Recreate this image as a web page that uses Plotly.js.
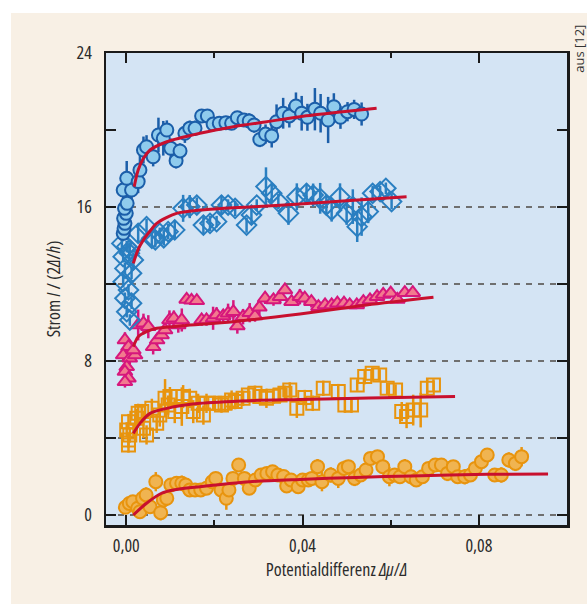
<!DOCTYPE html>
<html>
<head>
<meta charset="utf-8">
<script src="https://cdn.plot.ly/plotly-3.0.1.min.js"></script>
<style>
  html, body { margin: 0; padding: 0; background: #ffffff; }
  #panel { position: absolute; left: 11px; top: 13px; width: 576px; height: 591px; background: #f8f0e5; }
  #chart { position: absolute; left: 0; top: 0; width: 587px; height: 604px; }
  svg text { font-stretch: 75% !important; }
  svg g.annotation text.annotation-text { font-stretch: 100% !important; }
</style>
</head>
<body>
<div id="panel"></div>
<div id="chart"></div>
<script>
// ---- Data ----
// Series 1: dark blue circles
const x1 = [-0.0007,-0.0005,-0.0003,-0.0006,0.0000,-0.0004,0.0002,-0.0007,0.0012,0.0001,
            0.0027,0.0031,0.0039,0.0046,0.0061,0.0073,0.0084,0.0092,0.0101,0.0113,
            0.0122,0.0133,0.0144,0.0156,0.0171,0.0184,0.0197,0.0211,0.0226,0.0239,
            0.0252,0.0267,0.0279,0.0290,0.0303,0.0316,0.0330,0.0341,0.0356,0.0370,
            0.0385,0.0398,0.0411,0.0428,0.0441,0.0458,0.0471,0.0486,0.0502,0.0517,
            0.0534];
const y1 = [14.63,14.89,15.15,15.41,15.67,15.93,16.19,16.88,16.88,17.49,
            17.32,17.92,18.96,19.13,18.61,19.74,19.57,20.00,19.05,18.40,
            18.91,19.83,20.09,20.09,20.73,20.73,20.31,20.35,20.38,20.35,
            20.64,20.52,20.47,20.26,19.51,19.79,19.69,20.43,20.87,20.73,
            21.25,20.87,20.66,21.08,20.87,20.52,21.21,20.66,20.95,21.07,
            20.83];
const e1 = [0.3,0.3,0.3,0.4,0.3,0.4,0.4,0.5,0.5,0.9,
            0.6,0.9,0.7,0.6,0.5,0.9,0.9,0.5,0.5,0.4,
            0.4,0.5,0.4,0.4,0.3,0.3,0.3,0.3,0.3,0.3,
            0.3,0.3,0.4,0.4,0.4,0.5,0.6,0.9,0.8,0.6,
            0.7,0.9,0.7,1.1,1.0,1.2,0.7,0.6,0.5,0.5,
            0.6];

// Series 2: blue open diamonds
const x2 = [-0.0007,0.0008,-0.0003,0.0012,-0.0007,0.0005,-0.0003,0.0012,0.0001,0.0008,
            0.0016,0.0001,-0.0010,0.0007,
            0.0027,0.0046,0.0058,0.0066,0.0076,0.0085,0.0095,0.0110,0.0129,0.0144,
            0.0160,0.0175,0.0190,0.0205,0.0216,0.0231,0.0247,0.0273,0.0284,0.0296,
            0.0317,0.0330,0.0345,0.0368,0.0387,0.0409,0.0424,0.0440,0.0454,0.0466,
            0.0485,0.0500,0.0514,0.0524,0.0534,0.0549,0.0559,0.0576,0.0589,0.0602];
const y2 = [13.42,13.77,12.81,12.56,12.12,11.69,11.26,11.00,10.56,10.13,
            13.25,13.94,14.11,13.60,
            14.63,14.98,14.37,14.29,14.63,14.40,14.72,14.81,15.93,16.02,
            16.10,15.06,15.15,15.24,16.10,16.10,15.93,15.06,15.58,16.10,
            17.06,16.71,16.28,15.67,16.53,16.71,16.62,16.45,16.10,15.84,
            16.53,15.67,16.02,14.98,15.50,15.76,16.71,16.80,16.97,16.28];
const e2 = [0.3,0.3,0.3,0.3,0.3,0.3,0.3,0.3,0.3,0.3,
            0.4,0.3,0.3,0.4,
            0.5,0.4,0.5,0.4,0.3,0.4,0.4,0.5,0.7,0.6,
            0.4,0.5,0.4,0.3,0.5,0.3,0.4,0.4,0.5,0.3,
            1.0,0.5,0.4,0.6,0.7,0.5,0.6,0.8,0.5,0.6,
            0.7,0.6,0.9,0.8,1.0,0.6,0.4,0.3,0.3,0.4];

// Series 3: magenta triangles
const x3 = [-0.0003,0.0005,-0.0007,0.0008,0.0001,-0.0003,0.0005,-0.0003,0.0020,0.0016,
            0.0027,0.0039,0.0050,0.0061,0.0070,0.0080,0.0088,0.0098,0.0108,0.0118,
            0.0126,0.0137,0.0148,0.0160,0.0171,0.0182,0.0197,0.0205,0.0220,0.0231,
            0.0243,0.0252,0.0265,0.0280,0.0292,0.0302,0.0315,0.0334,0.0349,0.0360,
            0.0375,0.0394,0.0405,0.0420,0.0436,0.0451,0.0466,0.0479,0.0494,0.0507,
            0.0523,0.0538,0.0553,0.0569,0.0583,0.0600,0.0615,0.0632,0.0650];
const y3 = [9.09,8.74,8.31,8.14,7.70,7.45,7.10,6.92,8.31,8.57,
            9.87,9.96,9.78,8.74,9.09,9.35,9.61,10.13,10.22,9.87,
            10.13,11.20,11.15,11.13,10.13,10.13,10.22,10.39,10.34,10.48,
            10.56,9.82,10.30,10.51,10.34,10.79,11.26,11.17,11.34,11.69,
            11.08,11.34,11.26,11.08,10.82,10.91,10.91,11.00,11.00,10.91,
            10.91,11.08,11.17,11.34,11.46,11.52,11.20,11.55,11.55];
const e3 = [0.4,0.4,0.3,0.3,0.3,0.3,0.3,0.3,0.3,0.3,
            0.8,0.5,0.6,0.4,0.3,0.3,0.3,0.5,0.4,0.4,
            0.6,0.1,0.1,0.1,0.3,0.3,0.6,0.4,0.3,0.5,
            0.6,0.4,0.4,0.5,0.3,0.4,0.3,0.3,0.3,0.2,
            0.2,0.4,0.3,0.3,0.2,0.2,0.2,0.2,0.2,0.2,
            0.2,0.2,0.2,0.2,0.2,0.2,0.2,0.2,0.2];

// Series 4: orange open squares
const x4 = [0.0001,0.0005,0.0005,0.0008,0.0005,0.0024,0.0027,0.0035,0.0039,0.0046,
            0.0058,0.0069,0.0076,0.0088,0.0099,0.0095,0.0110,0.0126,0.0129,0.0144,
            0.0152,0.0163,0.0175,0.0182,0.0201,0.0216,0.0224,0.0239,0.0247,0.0265,
            0.0277,0.0292,0.0303,0.0318,0.0334,0.0349,0.0360,0.0371,0.0387,0.0405,
            0.0423,0.0447,0.0481,0.0496,0.0511,0.0524,0.0541,0.0558,0.0575,0.0592,
            0.0611,0.0625,0.0636,0.0651,0.0668,0.0683,0.0697];
const y4 = [4.42,3.90,3.64,4.16,4.85,5.02,5.28,5.37,4.50,4.16,
            5.54,4.76,5.19,6.06,6.15,5.71,5.37,5.63,6.15,6.06,
            5.37,5.80,5.19,5.80,5.80,5.71,5.80,5.97,5.89,6.06,
            6.23,6.32,6.15,6.06,6.17,6.23,6.32,6.49,5.54,6.10,
            5.80,6.58,6.41,5.71,5.71,6.75,7.19,7.36,7.27,6.58,
            6.49,5.37,5.11,5.45,5.45,6.58,6.75];
const e4 = [0.4,0.4,0.4,0.4,0.4,0.5,0.5,0.4,0.5,0.5,
            0.5,0.5,0.6,1.0,0.5,0.5,0.6,1.0,0.6,0.5,
            0.6,0.5,0.5,0.5,0.4,0.4,0.4,0.5,0.4,0.4,
            0.4,0.4,0.4,0.5,0.4,0.4,0.4,0.4,0.5,0.4,
            0.4,0.4,0.4,0.4,0.4,0.3,0.4,0.3,0.3,0.3,
            0.3,0.5,0.6,0.8,0.9,0.5,0.3];

// Series 5: orange filled circles
const x5 = [-0.0002,0.0007,0.0015,0.0026,0.0031,0.0037,0.0045,0.0054,0.0067,0.0078,
            0.0084,0.0092,0.0101,0.0114,0.0126,0.0135,0.0144,0.0156,0.0169,0.0182,
            0.0195,0.0203,0.0215,0.0227,0.0233,0.0242,0.0255,0.0268,0.0279,0.0293,
            0.0306,0.0319,0.0332,0.0344,0.0357,0.0364,0.0374,0.0390,0.0400,0.0413,
            0.0421,0.0434,0.0444,0.0464,0.0481,0.0494,0.0504,0.0518,0.0532,0.0544,
            0.0554,0.0570,0.0582,0.0597,0.0609,0.0621,0.0632,0.0646,0.0658,0.0672,
            0.0686,0.0701,0.0715,0.0729,0.0742,0.0752,0.0768,0.0781,0.0792,0.0806,
            0.0819,0.0836,0.0851,0.0868,0.0883,0.0897];
const y5 = [0.40,0.60,0.69,0.35,0.17,0.87,1.04,0.43,1.73,0.12,
            0.78,0.87,1.56,1.65,1.65,1.56,1.30,1.30,1.30,1.39,
            1.73,1.90,1.30,0.87,1.30,1.90,2.60,1.90,1.39,1.82,
            2.08,2.16,2.25,2.08,2.00,1.51,1.82,1.47,1.82,1.82,
            1.90,2.51,1.73,2.08,1.90,2.42,2.51,1.90,2.08,2.34,
            2.94,3.03,2.51,1.99,2.08,1.99,2.51,1.99,1.82,1.99,
            2.42,2.60,2.60,2.16,2.51,1.99,1.99,2.08,2.42,2.77,
            3.12,2.08,2.08,2.86,2.68,3.03];
const e5 = [0.2,0.3,0.3,0.3,0.3,0.3,0.4,0.3,0.5,0.4,
            0.4,0.4,0.3,0.3,0.4,0.3,0.3,0.3,0.3,0.3,
            0.4,0.3,0.3,0.6,0.3,0.3,0.3,0.3,0.3,0.3,
            0.3,0.3,0.3,0.3,0.3,0.3,0.3,0.3,0.3,0.3,
            0.3,0.4,0.5,0.4,0.5,0.4,0.3,0.4,0.3,0.3,
            0.3,0.3,0.3,0.5,0.3,0.3,0.4,0.4,0.3,0.3,
            0.3,0.3,0.3,0.4,0.3,0.3,0.4,0.3,0.3,0.3,
            0.3,0.3,0.4,0.4,0.4,0.5];

// Fit curves
const f1x = [0.0018,0.0027,0.0039,0.0054,0.0092,0.0167,0.0243,0.0319,0.0394,0.0480,0.0568];
const f1y = [17.06,17.92,18.53,18.96,19.39,19.83,20.17,20.43,20.69,20.92,21.13];
const f2x = [0.0016,0.0027,0.0039,0.0054,0.0069,0.0114,0.0167,0.0243,0.0319,0.0394,0.0500,0.0636];
const f2y = [13.07,13.80,14.29,14.75,15.15,15.67,15.84,15.96,16.05,16.16,16.32,16.53];
const f3x = [0.0016,0.0027,0.0046,0.0069,0.0129,0.0243,0.0394,0.0545,0.0697];
const f3y = [8.74,9.26,9.52,9.70,9.83,10.04,10.44,10.91,11.31];
const f4x = [0.0016,0.0031,0.0054,0.0092,0.0167,0.0280,0.0394,0.0550,0.0746];
const f4y = [4.24,4.76,5.28,5.54,5.80,5.94,6.00,6.08,6.15];
const f5x = [0.0016,0.0046,0.0080,0.0107,0.0167,0.0280,0.0394,0.0520,0.0648,0.0819,0.0957];
const f5y = [0.00,0.61,1.13,1.30,1.47,1.73,1.85,1.95,2.03,2.11,2.13];

// Axis ticks / reference lines
const xTickVals = [0, 0.04, 0.08];
const yTickVals = [0, 8, 16, 24];
const dashedY = [0, 4, 8, 12, 16];

// ---- Styling ----
const FONT = "Open Sans, DejaVu Sans Condensed, sans-serif";
const fitColor = "#c8102e";

function pts(x, y, e, symbol, size, fill, edge) {
  return {
    type: "scatter", mode: "markers", x: x, y: y,
    error_y: { type: "data", array: e, visible: true, color: edge, thickness: 2.5, width: 0 },
    marker: { symbol: symbol, size: size, color: fill, line: { color: edge, width: 2 } },
    hoverinfo: "x+y", showlegend: false
  };
}
function fit(x, y) {
  return { type: "scatter", mode: "lines", x: x, y: y,
           line: { color: fitColor, width: 3, shape: "spline", smoothing: 0.8 },
           hoverinfo: "skip", showlegend: false };
}

const data = [
  pts(x5, y5, e5, "circle", 13, "#f0b451", "#e8940e"),
  pts(x4, y4, e4, "square-open", 13, "#e8940e", "#e8940e"),
  pts(x3, y3, e3, "triangle-up", 13, "#f27a8e", "#d6177c"),
  pts(x2, y2, e2, "diamond-open", 15, "#2a7fc1", "#2a7fc1"),
  pts(x1, y1, e1, "circle", 13, "#8fcbed", "#1b5ea9"),
  fit(f5x, f5y), fit(f4x, f4y), fit(f3x, f3y), fit(f2x, f2y), fit(f1x, f1y)
];

const shapes = dashedY.map(v => ({
  type: "line", xref: "paper", x0: 0, x1: 1, yref: "y", y0: v, y1: v,
  line: { color: "#6f6f6f", width: 2, dash: "6px,6px" }, layer: "below"
}));

const layout = {
  width: 587, height: 604,
  margin: { l: 106, r: 20, t: 53, b: 79 },
  paper_bgcolor: "rgba(0,0,0,0)",
  plot_bgcolor: "#d4e4f4",
  separators: ",.",
  font: { family: FONT, size: 18, color: "#2b2b2b" },
  showlegend: false,
  xaxis: {
    range: [-0.0046, 0.1000],
    tickvals: xTickVals, tickformat: ".2f",
    ticks: "inside", ticklen: 10, tickwidth: 2, tickcolor: "#1a1a1a",
    minor: { dtick: 0.02, tick0: 0, ticks: "inside", ticklen: 5, tickwidth: 2, tickcolor: "#1a1a1a", showgrid: false },
    showline: true, linecolor: "#1a1a1a", linewidth: 2.5, mirror: "ticks",
    showgrid: false, zeroline: false,
    tickfont: { family: FONT, size: 18, color: "#2b2b2b" },
    ticklabelstandoff: 3,
    title: { text: "Potentialdifferenz <i>Δμ</i>/<i>Δ</i>", font: { family: FONT, size: 18, color: "#2b2b2b" }, standoff: 8 }
  },
  yaxis: {
    range: [-0.52, 24],
    tickvals: yTickVals,
    ticks: "inside", ticklen: 10, tickwidth: 2, tickcolor: "#1a1a1a",
    minor: { dtick: 4, tick0: 0, ticks: "inside", ticklen: 10, tickwidth: 2, tickcolor: "#1a1a1a", showgrid: false },
    showline: true, linecolor: "#1a1a1a", linewidth: 2.5, mirror: "ticks",
    showgrid: false, zeroline: false,
    tickfont: { family: FONT, size: 18, color: "#2b2b2b" },
    ticklabelstandoff: 8,
    title: { text: "Strom <i>I</i> / (2<i>Δ</i>/<i>h</i>)", font: { family: FONT, size: 18, color: "#2b2b2b" }, standoff: 12 }
  },
  shapes: shapes,
  annotations: [{
    text: "aus [12]", xref: "paper", yref: "paper", x: 1.026, y: 1.01,
    textangle: -90, showarrow: false, font: { family: FONT, size: 13, color: "#333333" },
    xanchor: "center", yanchor: "middle"
  }]
};

Plotly.newPlot("chart", data, layout, { displayModeBar: false, staticPlot: true });
</script>
</body>
</html>
